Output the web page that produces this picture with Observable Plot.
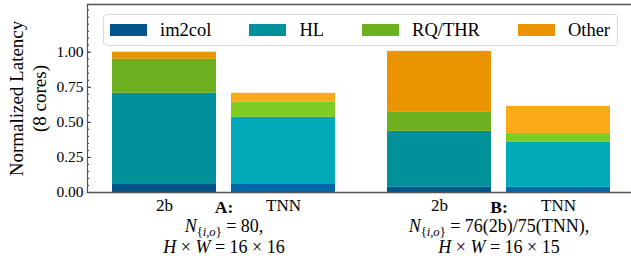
<!DOCTYPE html>
<html><head><meta charset="utf-8">
<script src="https://cdn.jsdelivr.net/npm/d3@7"></script>
<script src="https://cdn.jsdelivr.net/npm/@observablehq/plot@0.6"></script>
<style>
body{margin:0;background:#fff;}
#wrap{position:relative;width:631px;height:256px;font-family:"Liberation Serif",serif;}
#legend{position:absolute;left:103px;top:14px;width:515px;height:32px;box-sizing:border-box;border:1px solid #d9d9d9;border-radius:4px;background:rgba(255,255,255,0.85);display:flex;align-items:center;padding-left:6px;font-size:18.5px;color:#000;}
#legend .item{display:flex;align-items:center;margin-right:38px;white-space:nowrap;}
#legend .sw{width:37px;height:12px;margin-right:13px;}
</style></head><body><div id="wrap"></div>
<script>
const groups = ["A", "B"];
const methods = ["2b", "TNN"];
const components = ["im2col", "HL", "RQ/THR", "Other"];
// segment heights, order: A-2b, A-TNN, B-2b, B-TNN
const im2col = [0.057, 0.057, 0.037, 0.037];
const hl     = [0.650, 0.479, 0.399, 0.320];
const rqthr  = [0.243, 0.107, 0.135, 0.064];
const other  = [0.050, 0.064, 0.435, 0.193];
const colors2b  = ["#00568a", "#00919a", "#6caf1f", "#eb9400"];
const colorsTNN = ["#0068a8", "#00a9b7", "#7fcc24", "#fca917"];
const groupTitles = ["A:", "B:"];
const nLines = ["N_{i,o} = 80,", "N_{i,o} = 76(2b)/75(TNN),"];
const hwLines = ["H × W = 16 × 16", "H × W = 16 × 15"];
const yTicks = [0, 0.25, 0.5, 0.75, 1];
const yMinor = d3.range(0, 27).map(i => i * 0.05);
const yLabel = "Normalized Latency\n(8 cores)";

const series = [im2col, hl, rqthr, other];
const rows = [];
groups.forEach((g, gi) => methods.forEach((m, mi) => {
  const k = gi * 2 + mi;
  components.forEach((c, ci) => rows.push({
    group: g, method: m, component: c, value: series[ci][k],
    color: (m === "2b" ? colors2b : colorsTNN)[ci]
  }));
}));
const notes = groups.map((g, i) => ({group: g, title: groupTitles[i], n: nLines[i], hw: hwLines[i]}));

const serif = "Liberation Serif";
const axisColor = "#555";
const plot = Plot.plot({
  width: 631, height: 256,
  marginLeft: 87, marginRight: -4, marginTop: 4, marginBottom: 64,
  style: {background: "#fff", color: "#000"},
  fx: {domain: groups, paddingInner: 2 / 275, paddingOuter: 0, axis: null, label: null},
  x: {domain: methods, paddingInner: 0.126, paddingOuter: 0.21, axis: null, label: null},
  y: {domain: [0, 1.34], axis: null},
  color: {type: "identity"},
  marks: [
    Plot.barY(rows, {fx: "group", x: "method", y: "value", fill: "color", z: "component"}),
    Plot.axisY({ticks: yTicks, tickFormat: d3.format(".2f"), tickSize: 0, tickPadding: 4, fontSize: 15.5, anchor: "left", label: null}),
    Plot.axisY({ticks: yTicks, tickSize: 4, dx: 4, text: null, anchor: "left", label: null, stroke: "#333"}),
    Plot.axisY({ticks: yMinor, tickSize: 2, dx: 2, text: null, anchor: "left", label: null, stroke: "#333"}),
    Plot.axisX({tickSize: 0, tickPadding: 6, fontSize: 17, label: null}),
    Plot.frame({anchor: "left", facet: "super", stroke: axisColor, strokeWidth: 1.2}),
    Plot.frame({anchor: "top", facet: "super", stroke: axisColor, strokeWidth: 1.5}),
    Plot.frame({anchor: "bottom", facet: "super", stroke: axisColor, strokeWidth: 1.5}),
    Plot.text(notes, {fx: "group", frameAnchor: "bottom", text: "title", dy: 20.5, fontWeight: "bold", fontSize: 17.5}),
    Plot.text(notes, {fx: "group", frameAnchor: "bottom", text: "n", dy: 39, fontSize: 18, className: "math"}),
    Plot.text(notes, {fx: "group", frameAnchor: "bottom", text: "hw", dy: 60, fontSize: 18, className: "math"}),
    Plot.text([yLabel], {facet: "super", frameAnchor: "left", textAnchor: "middle", rotate: -90, dx: -60.5, fontSize: 19, lineHeight: 1.2})
  ]
});

// render simple math (italic variables, subscripts as {..}) as real tspans
function mathify(el) {
  const str = el.textContent;
  const re = /([A-Z])_\{([^}]*)\}|\b([A-Z])\b/g;
  const segs = [];
  let last = 0, m;
  while ((m = re.exec(str))) {
    if (m.index > last) segs.push({t: str.slice(last, m.index)});
    if (m[1]) {
      segs.push({t: m[1], it: true});
      segs.push({t: "{", sub: true});
      segs.push({t: m[2], it: true, sub: true});
      segs.push({t: "}", sub: true});
    } else segs.push({t: m[3], it: true});
    last = re.lastIndex;
  }
  if (last < str.length) segs.push({t: str.slice(last)});
  const sel = d3.select(el);
  sel.text(null);
  let shifted = false;
  segs.forEach(s => {
    const ts = sel.append("tspan").text(s.t);
    if (s.it) ts.attr("font-style", "italic");
    if (s.sub) {
      ts.attr("font-size", "0.7em");
      if (!shifted) { ts.attr("dy", 4.5); shifted = true; }
    } else if (shifted) { ts.attr("dy", -4.5); shifted = false; }
  });
}
d3.select(plot).selectAll("g.math text").each(function () { mathify(this); });
d3.select(plot).attr("font-family", serif);
d3.select(plot).selectAll("g").each(function () { if (this.getAttribute("font-family")) this.setAttribute("font-family", serif); });
d3.select(plot).selectAll("text, tspan").each(function () { this.style.setProperty("font-family", serif, "important"); });

const wrap = document.getElementById("wrap");
wrap.appendChild(plot);
const legend = d3.select(wrap).append("div").attr("id", "legend");
components.forEach((c, i) => {
  const it = legend.append("div").attr("class", "item");
  it.append("div").attr("class", "sw").style("background", colors2b[i]);
  it.append("span").text(c);
});
</script></body></html>
